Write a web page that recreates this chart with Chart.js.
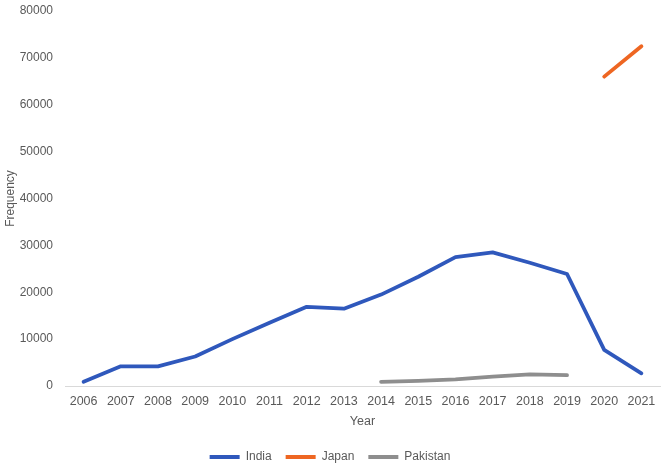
<!DOCTYPE html>
<html>
<head>
<meta charset="utf-8">
<script src="https://cdn.jsdelivr.net/npm/chart.js@4/dist/chart.umd.min.js"></script>
<style>
html,body{margin:0;padding:0;background:#fff;}
#wrap{width:664px;height:468px;position:relative;}
</style>
</head>
<body>
<div id="wrap"><canvas id="c" width="664" height="468"></canvas></div>
<script>
const years = ["2006","2007","2008","2009","2010","2011","2012","2013","2014","2015","2016","2017","2018","2019","2020","2021"];
const india = [900,4200,4200,6300,10000,13500,16900,16500,19500,23300,27500,28500,26300,23900,7700,2700];
const japan = [null,null,null,null,null,null,null,null,null,null,null,null,null,null,66000,72500];
const pakistan = [null,null,null,null,null,null,null,null,900,1100,1400,2000,2500,2300,null,null];
const yTicks = [0,10000,20000,30000,40000,50000,60000,70000,80000];

const FONT = "'Liberation Sans', Arial, Helvetica, sans-serif";
const TXT = '#595959';

new Chart(document.getElementById('c'), {
  type: 'line',
  data: {
    labels: years,
    datasets: [
      {label:'India', data: india, borderColor:'#2F58BC', backgroundColor:'#2F58BC', borderWidth:3.8},
      {label:'Japan', data: japan, borderColor:'#EE6622', backgroundColor:'#EE6622', borderWidth:3.8},
      {label:'Pakistan', data: pakistan, borderColor:'#8E8E8E', backgroundColor:'#8E8E8E', borderWidth:3.8}
    ]
  },
  options: {
    responsive:false,
    animation:false,
    devicePixelRatio:1,
    elements:{point:{radius:0, hoverRadius:0}, line:{tension:0, borderCapStyle:'round', borderJoinStyle:'round'}},
    spanGaps:false,
    layout:{padding:{top:0,right:4,left:0,bottom:-5}},
    plugins:{
      tooltip:{enabled:false},
      legend:{
        position:'bottom',
        labels:{
          font:{family:FONT,size:12}, color:TXT,
          boxWidth:30, boxHeight:4, padding:14,
          generateLabels(chart){
            return chart.data.datasets.map((d,i)=>({text:d.label, fillStyle:d.borderColor, strokeStyle:d.borderColor, lineWidth:0, datasetIndex:i, fontColor:TXT}));
          }
        }
      }
    },
    scales:{
      x:{
        offset:true,
        grid:{display:false, drawTicks:false},
        border:{display:true, color:'#D9D9D9', width:1},
        ticks:{font:{family:FONT,size:12.5}, color:TXT, padding:8, maxRotation:0, autoSkip:false},
        title:{display:true, text:'Year', font:{family:FONT,size:12.5}, color:TXT, padding:{top:-3,bottom:8}}
      },
      y:{
        min:0, max:80000,
        afterBuildTicks(scale){ scale.ticks = yTicks.map(v=>({value:v})); },
        afterFit(scale){ scale.width = 65; scale.paddingTop = 11; },
        grid:{display:false, drawTicks:false},
        border:{display:false},
        ticks:{font:{family:FONT,size:12}, color:TXT, padding:12, callback:(v)=>String(v)},
        title:{display:true, text:'Frequency', font:{family:FONT,size:12}, color:TXT, padding:{top:3,bottom:0}}
      }
    }
  }
});
</script>
</body>
</html>
